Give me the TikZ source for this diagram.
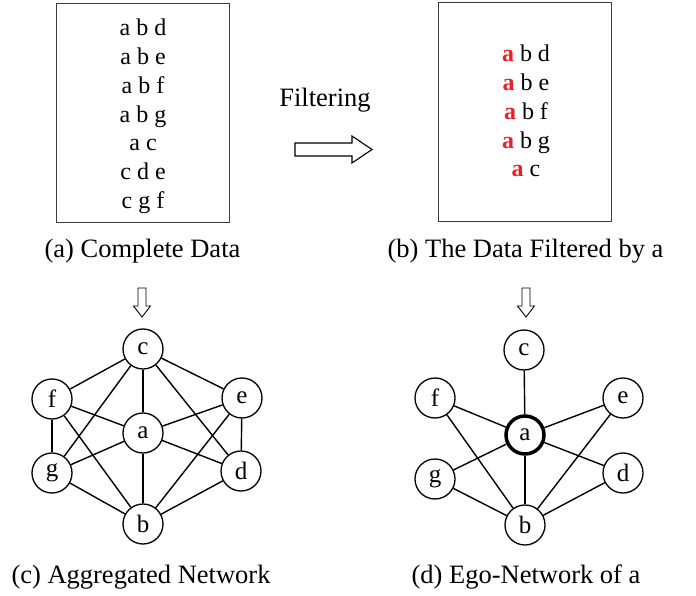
\documentclass[tikz,border=0pt]{standalone}
\usepackage{fontspec}
\setmainfont{Liberation Serif}
\definecolor{hired}{RGB}{232,32,40}
\definecolor{boxgray}{RGB}{60,60,60}
\begin{document}
\begin{tikzpicture}[x=1pt,y=-1pt,
  panel/.style={draw=boxgray,line width=1pt,inner sep=0pt},
  row/.style={anchor=base,inner sep=0pt,font=\fontsize{24}{28}\selectfont},
  captxt/.style={anchor=base,inner sep=0pt,font=\fontsize{26.5}{30}\selectfont},
  vtx/.style={circle,draw,line width=1.3pt,minimum size=40pt,inner sep=0pt,fill=white,font=\fontsize{25}{28}\selectfont},
  ego/.style={vtx,line width=3.5pt,minimum size=38pt},
  edge/.style={line width=1.4pt},
  blockarrow/.style={draw,line width=1.1pt,fill=white,line join=miter}
]
\useasboundingbox (0,0) rectangle (696,596);

% panel (a)
\node[panel,minimum width=173pt,minimum height=219pt] (boxA) at (142.5,113.5) {};
\node[row] (a1) at (143,36) {a b d};
\node[row] (a2) at (143,64.7) {a b e};
\node[row] (a3) at (143,93.4) {a b f};
\node[row] (a4) at (143,122.1) {a b g};
\node[row] (a5) at (143,150.8) {a c};
\node[row] (a6) at (143,179.5) {c d e};
\node[row] (a7) at (143,208.2) {c g f};
\node[captxt] (capA) at (142.5,257) {(a) Complete Data};

% filtering arrow
\node[captxt] (filt) at (325,107) {Filtering};
\draw[blockarrow] (295,143) -- (352,143) -- (352,136) -- (372,149.5) -- (352,163) -- (352,156) -- (295,156) -- cycle;

% panel (b)
\node[panel,minimum width=173pt,minimum height=219pt] (boxB) at (524.5,112.5) {};
\node[row] (b1) at (526,62) {\textcolor{hired}{\textbf{a}} b d};
\node[row] (b2) at (526,90.7) {\textcolor{hired}{\textbf{a}} b e};
\node[row] (b3) at (526,119.4) {\textcolor{hired}{\textbf{a}} b f};
\node[row] (b4) at (526,148.1) {\textcolor{hired}{\textbf{a}} b g};
\node[row] (b5) at (526,176.8) {\textcolor{hired}{\textbf{a}} c};
\node[captxt] (capB) at (525.5,257) {(b) The Data Filtered by a};

% down arrows
\draw[blockarrow,line width=0.9pt] (138,288) -- (146,288) -- (146,306) -- (150.5,306) -- (142,317) -- (133.5,306) -- (138,306) -- cycle;
\draw[blockarrow,line width=0.9pt] (522,288) -- (530,288) -- (530,306) -- (534.5,306) -- (526,317) -- (517.5,306) -- (522,306) -- cycle;

% network (c)
\node[vtx] (c1) at (143,349) {c};
\node[vtx] (f1) at (52,399) {f};
\node[vtx] (e1) at (242,398) {e};
\node[vtx] (A1) at (143,433) {a};
\node[vtx] (g1) at (52,473) {g};
\node[vtx] (d1) at (241,471) {d};
\node[vtx] (B1) at (143,524) {b};
\foreach \u/\v in {c1/f1,c1/e1,c1/A1,c1/g1,c1/d1,f1/A1,f1/g1,f1/B1,e1/A1,e1/d1,e1/B1,A1/g1,A1/d1,A1/B1,g1/B1,d1/B1}
  \draw[edge] (\u) -- (\v);
\node[captxt] (capC) at (141,583) {(c) Aggregated Network};

% network (d)
\node[vtx] (c2) at (524,350) {c};
\node[vtx] (f2) at (435,398) {f};
\node[vtx] (e2) at (623,398) {e};
\node[ego] (A2) at (525,435) {a};
\node[vtx] (g2) at (435,479) {g};
\node[vtx] (d2) at (623,473) {d};
\node[vtx] (B2) at (525,525) {b};
\foreach \u/\v in {c2/A2,f2/A2,f2/B2,e2/A2,e2/B2,A2/g2,A2/d2,A2/B2,g2/B2,d2/B2}
  \draw[edge] (\u) -- (\v);
\node[captxt] (capD) at (526,583) {(d) Ego-Network of a};
\end{tikzpicture}
\end{document}
